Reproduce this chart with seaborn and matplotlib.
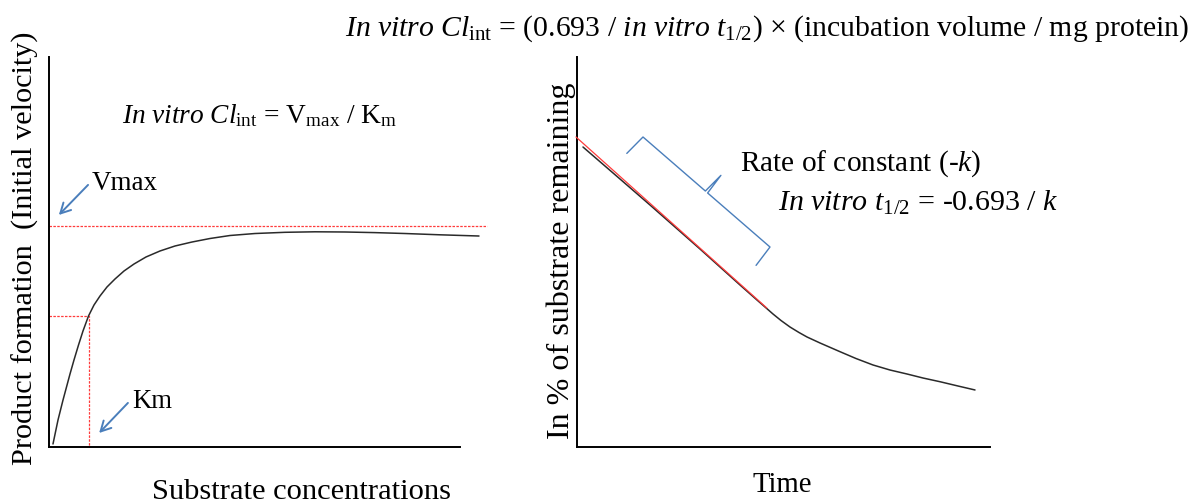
import numpy as np
import pandas as pd
import matplotlib
matplotlib.use("Agg")
import matplotlib.pyplot as plt
import seaborn as sns

# ---------------- data (arbitrary units) ----------------
# Left panel: saturation curve (product formation vs substrate concentration)
substrate_conc = [0.97, 1.58, 2.19, 2.80, 3.41, 4.26, 5.11, 6.08, 7.18, 8.27, 9.61,
                  10.95, 12.41, 14.11, 16.06, 18.25, 20.68, 23.60, 27.01, 30.66, 34.79,
                  39.17, 44.04, 50.12, 57.42, 64.72, 72.02, 79.32, 86.62, 95.13, 104.62]
product_formation = [0.77, 3.85, 6.92, 9.49, 12.05, 15.38, 18.72, 22.31, 26.15, 29.74, 33.59,
                     36.41, 38.72, 41.03, 43.08, 45.13, 46.92, 48.72, 50.26, 51.54, 52.56,
                     53.46, 54.23, 54.74, 55.05, 55.18, 55.13, 54.97, 54.74, 54.41, 54.10]
vmax_level = 56.7
vmax_line_end = 106.6
km_conc = 9.7
km_level = 33.6

# Right panel: ln % of substrate remaining vs time
time_points = [1.45, 10.41, 17.68, 29.78, 39.47, 43.58, 45.52, 47.46, 49.39, 51.57, 53.75,
               55.69, 58.84, 63.68, 67.55, 71.67, 75.79, 79.90, 83.78, 87.89, 92.25, 96.37]
ln_remaining = [76.92, 68.72, 62.05, 50.77, 41.54, 37.69, 35.90, 34.10, 32.44, 30.77, 29.36,
                28.21, 26.67, 24.44, 22.69, 21.03, 19.74, 18.72, 17.69, 16.74, 15.64, 14.62]
tangent_time = [-0.24, 45.96]
tangent_ln = [79.49, 35.64]

# ---------------- style ----------------
sns.set_theme(style="white")
plt.rcParams["font.family"] = ["Liberation Serif", "DejaVu Serif"]
plt.rcParams["mathtext.fontset"] = "custom"
plt.rcParams["mathtext.rm"] = "Liberation Serif"
plt.rcParams["mathtext.it"] = "Liberation Serif:italic"

W, H = 1197, 504
fig = plt.figure(figsize=(W / 100, H / 100), dpi=100)
fig.patch.set_facecolor("white")


def px_rect(l, t, r, b):
    return [l / W, 1 - b / H, (r - l) / W, (b - t) / H]


ax1 = fig.add_axes(px_rect(49, 57, 460, 447))
ax2 = fig.add_axes(px_rect(577, 57, 990, 447))

CURVE = "#2a2a2a"
RED = "#ff3b3b"
BLUE = "#4a7ebb"

df1 = pd.DataFrame({"conc": substrate_conc, "rate": product_formation})
sns.lineplot(data=df1, x="conc", y="rate", ax=ax1, color=CURVE, lw=1.1,
             clip_on=False, sort=False, zorder=3)
ax1.plot([0, vmax_line_end], [vmax_level, vmax_level], color=RED, lw=0.9,
         ls=(0, (2.0, 1.1)), clip_on=False, zorder=2)
ax1.plot([0, km_conc, km_conc], [km_level, km_level, 0], color=RED, lw=0.9,
         ls=(0, (2.0, 1.1)), clip_on=False, zorder=2)

df2 = pd.DataFrame({"time": time_points, "ln": ln_remaining})
sns.lineplot(data=df2, x="time", y="ln", ax=ax2, color=CURVE, lw=1.1,
             clip_on=False, sort=False, zorder=3)
ax2.plot(tangent_time, tangent_ln, color=RED, lw=0.9, clip_on=False, zorder=4)

for ax in (ax1, ax2):
    ax.set_xlim(0, 100)
    ax.set_ylim(0, 100)
    ax.set_xticks([])
    ax.set_yticks([])
    ax.set_xlabel("")
    ax.set_ylabel("")
    ax.patch.set_alpha(0)
    for s in ("top", "right"):
        ax.spines[s].set_visible(False)
    for s in ("left", "bottom"):
        ax.spines[s].set_color("black")
        ax.spines[s].set_linewidth(1.4)

# arrows
arrow_kw = dict(arrowstyle="->,head_length=0.6,head_width=0.32", color=BLUE, lw=1.4,
                shrinkA=0, shrinkB=0)
ax1.annotate("", xy=(2.4, 59.5), xytext=(9.5, 67.2), arrowprops=arrow_kw,
             annotation_clip=False)
ax1.annotate("", xy=(12.2, 3.6), xytext=(19.2, 11.3), arrowprops=arrow_kw,
             annotation_clip=False)


# curly brace next to the tangent line
def draw_brace(ax, p0, p1, depth, tip):
    T = ax.transData
    a = T.transform(p0)
    b = T.transform(p1)
    d = b - a
    u = d / np.hypot(*d)
    n = np.array([-u[1], u[0]])
    m = (a + b) / 2
    pts = np.array([a - depth * n - 1.5 * u, a, m - 1.5 * u, m + tip * n,
                    m + 1.5 * u, b, b - depth * n + 1.5 * u])
    dpts = T.inverted().transform(pts)
    ax.plot(dpts[:, 0], dpts[:, 1], color=BLUE, lw=1.0, clip_on=False,
            solid_joinstyle="round", solid_capstyle="round")


draw_brace(ax2, (15.98, 79.49), (46.73, 51.28), 23, 22)

# ---------------- texts ----------------
renderer = fig.canvas.get_renderer()


def fit_text(x, y, s, width=None, height=None, size=20, **kw):
    t = fig.text(x / W, 1 - y / H, s, fontsize=size, color="black", **kw)
    bb = t.get_window_extent(renderer)
    if width:
        t.set_fontsize(size * width / bb.width)
    elif height:
        t.set_fontsize(size * height / bb.height)
    return t


fit_text(345, 36,
         r"$\mathit{In\ vitro\ Cl}_{\mathrm{int}}$ = (0.693 / $\mathit{in\ vitro\ t}_{1/2}$) × (incubation volume / mg protein)",
         width=845, ha="left", va="baseline")
fit_text(122, 123, r"$\mathit{In\ vitro\ Cl}_{\mathrm{int}}$ = V$_{\mathrm{max}}$ / K$_{\mathrm{m}}$",
         width=275, ha="left", va="baseline")
fit_text(92, 190, "Vmax", width=66, ha="left", va="baseline")
fit_text(132, 408, "Km", width=40, ha="left", va="baseline")
fit_text(740, 171, r"Rate of constant (-$\mathit{k}$)", width=241, ha="left", va="baseline")
fit_text(778, 211, r"$\mathit{In\ vitro\ t}_{1/2}$ = -0.693 / $\mathit{k}$", width=280,
         ha="left", va="baseline")
fit_text(301, 499, "Substrate concentrations", width=298, ha="center", va="baseline")
fit_text(782, 492, "Time", width=60, ha="center", va="baseline")
fit_text(33, 248.5, "Product formation  (Initial velocity)", height=433, rotation=90,
         rotation_mode="anchor", ha="center", va="baseline")
fit_text(569, 261, "In % of substrate remaining", height=358, rotation=90,
         rotation_mode="anchor", ha="center", va="baseline")

fig.savefig("out.png", dpi=100, facecolor="white")
